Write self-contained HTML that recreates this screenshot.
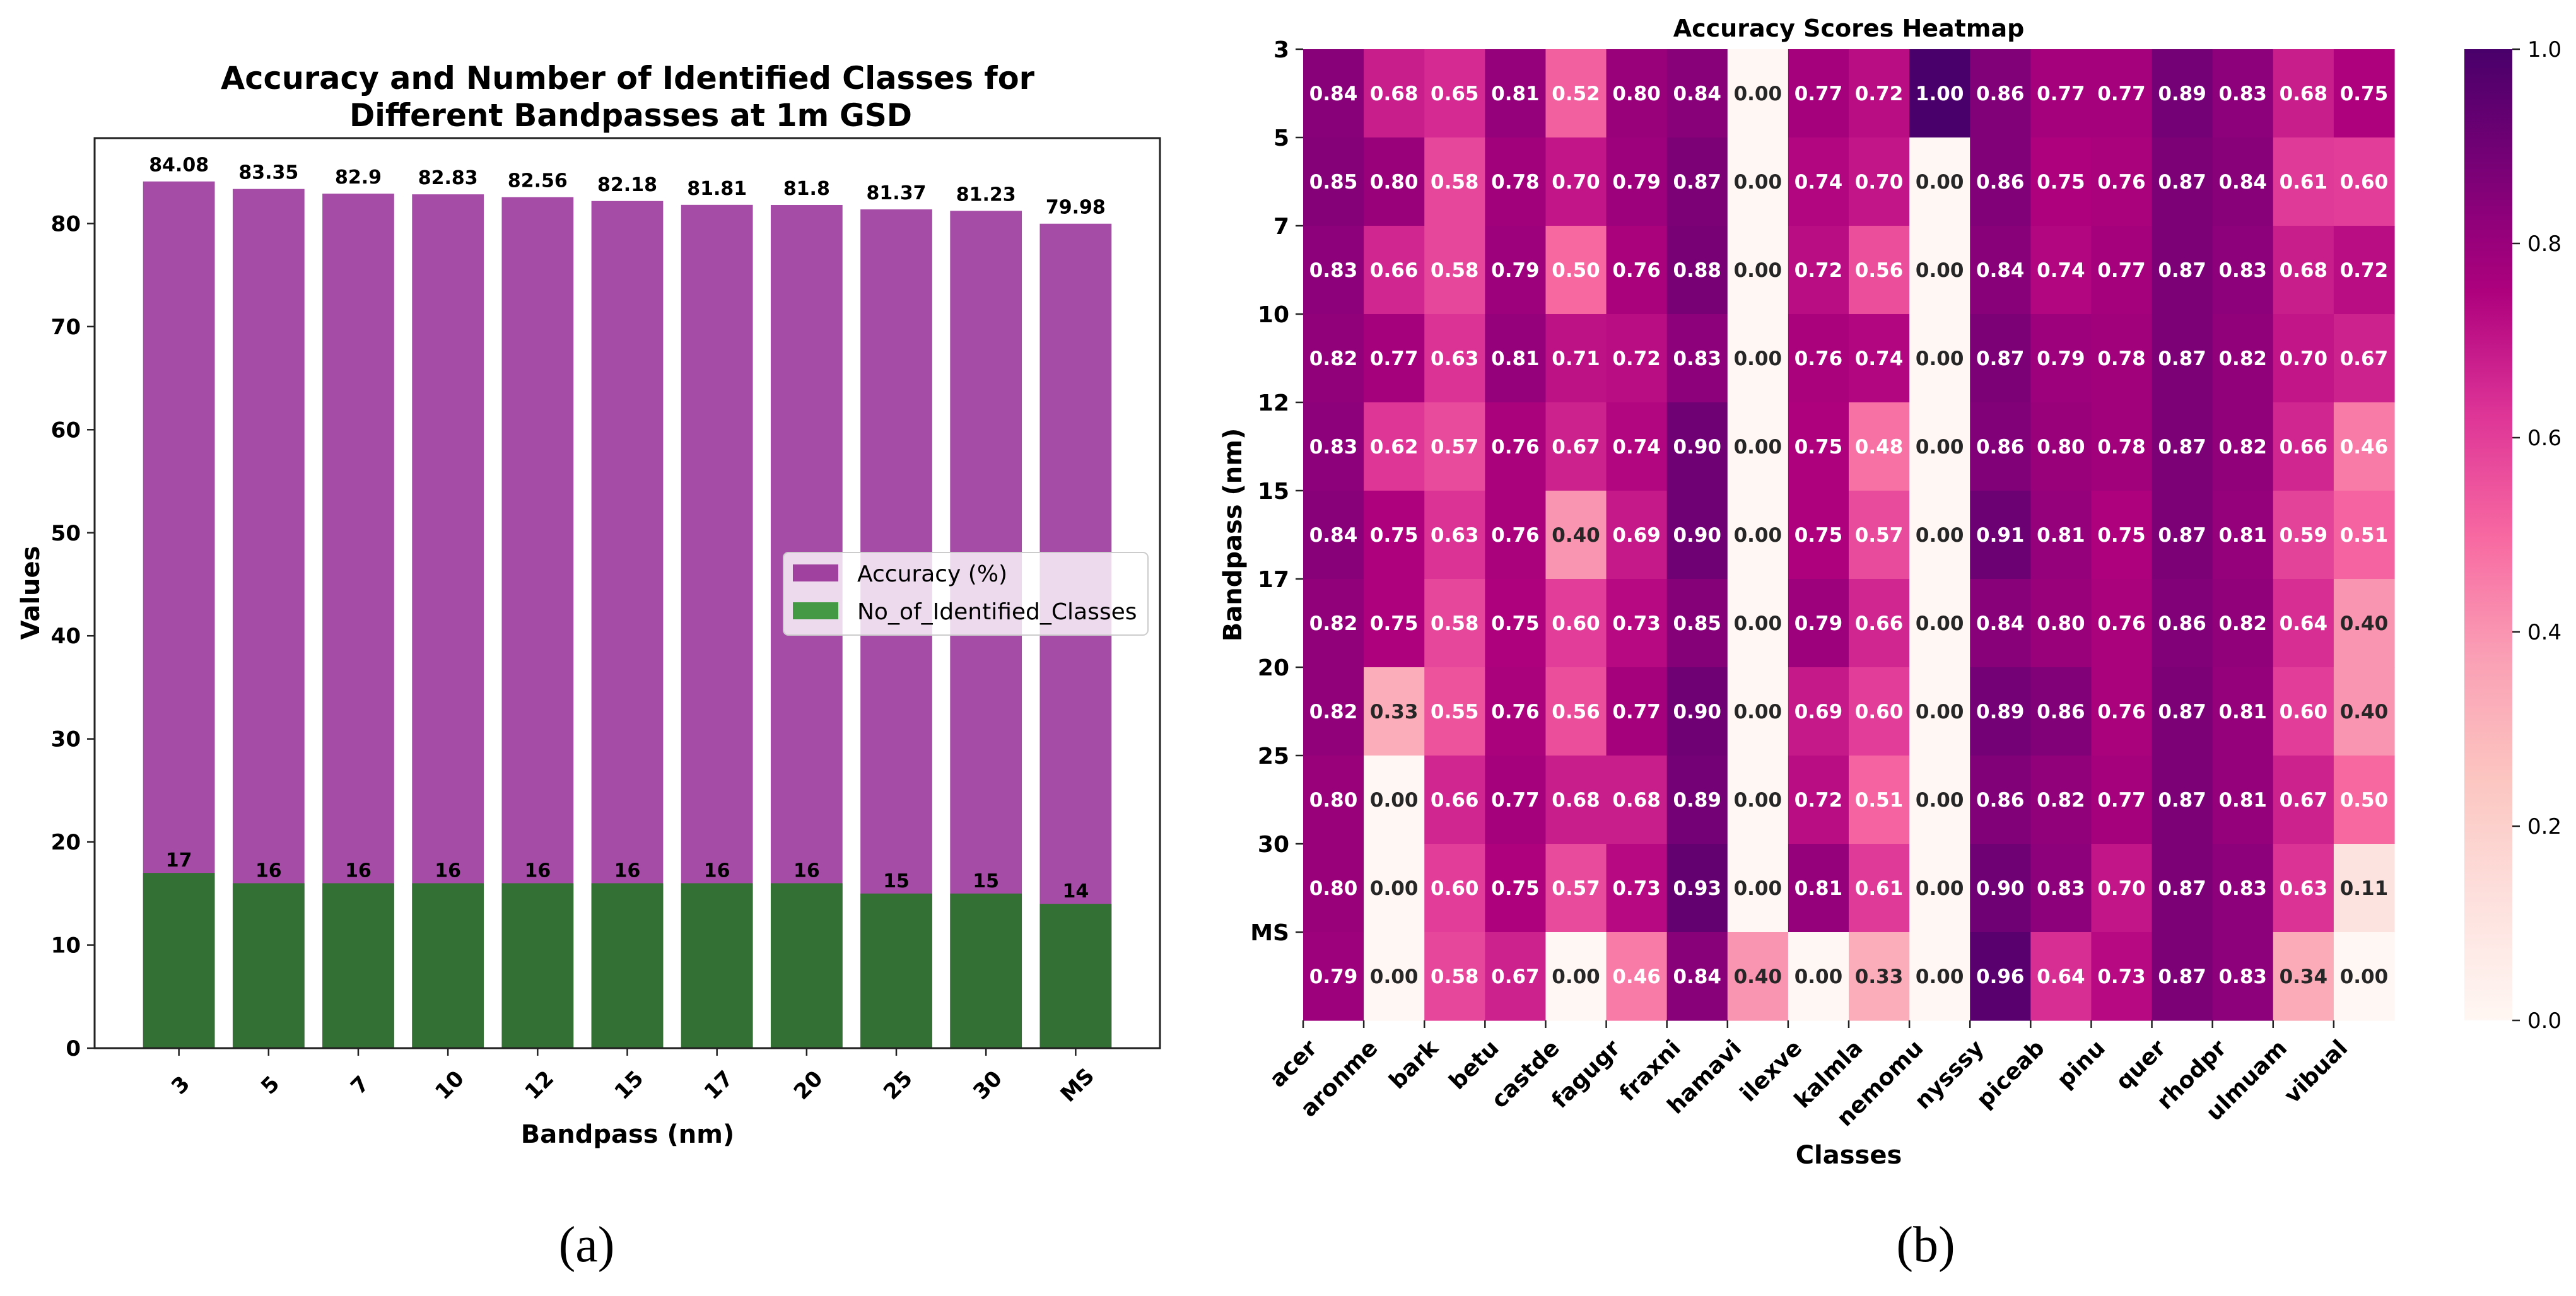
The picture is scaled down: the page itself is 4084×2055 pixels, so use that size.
<!DOCTYPE html>
<html><head><meta charset="utf-8">
<style>
html,body{margin:0;padding:0;background:#fff;}
svg{display:block;font-family:"DejaVu Sans","Liberation Sans",sans-serif;}
</style></head>
<body>
<svg id="fig" width="4084" height="2055" viewBox="0 0 4084 2055" xmlns="http://www.w3.org/2000/svg">
  <rect width="4084" height="2055" fill="#fff"/>
  <g id="barchart"></g>
  <g id="heatmap"></g>
</svg>
<script>
// ---------- Bar chart data ----------
const bandCategories = ["3","5","7","10","12","15","17","20","25","30","MS"];
const accuracyValues = [84.08,83.35,82.9,82.83,82.56,82.18,81.81,81.8,81.37,81.23,79.98];
const classCountValues = [17,16,16,16,16,16,16,16,15,15,14];
const barYTicks = [0,10,20,30,40,50,60,70,80];

// ---------- Heatmap data ----------
const hmRows = ["3","5","7","10","12","15","17","20","25","30","MS"];
const hmCols = ["acer","aronme","bark","betu","castde","fagugr","fraxni","hamavi","ilexve","kalmla","nemomu","nysssy","piceab","pinu","quer","rhodpr","ulmuam","vibual"];
const hmRow3  = [.84,.68,.65,.81,.52,.80,.84,0,.77,.72,1.00,.86,.77,.77,.89,.83,.68,.75];
const hmRow5  = [.85,.80,.58,.78,.70,.79,.87,0,.74,.70,0,.86,.75,.76,.87,.84,.61,.60];
const hmRow7  = [.83,.66,.58,.79,.50,.76,.88,0,.72,.56,0,.84,.74,.77,.87,.83,.68,.72];
const hmRow10 = [.82,.77,.63,.81,.71,.72,.83,0,.76,.74,0,.87,.79,.78,.87,.82,.70,.67];
const hmRow12 = [.83,.62,.57,.76,.67,.74,.90,0,.75,.48,0,.86,.80,.78,.87,.82,.66,.46];
const hmRow15 = [.84,.75,.63,.76,.40,.69,.90,0,.75,.57,0,.91,.81,.75,.87,.81,.59,.51];
const hmRow17 = [.82,.75,.58,.75,.60,.73,.85,0,.79,.66,0,.84,.80,.76,.86,.82,.64,.40];
const hmRow20 = [.82,.33,.55,.76,.56,.77,.90,0,.69,.60,0,.89,.86,.76,.87,.81,.60,.40];
const hmRow25 = [.80,0,.66,.77,.68,.68,.89,0,.72,.51,0,.86,.82,.77,.87,.81,.67,.50];
const hmRow30 = [.80,0,.60,.75,.57,.73,.93,0,.81,.61,0,.90,.83,.70,.87,.83,.63,.11];
const hmRowMS = [.79,0,.58,.67,0,.46,.84,.40,0,.33,0,.96,.64,.73,.87,.83,.34,0];
const hmValues = [hmRow3,hmRow5,hmRow7,hmRow10,hmRow12,hmRow15,hmRow17,hmRow20,hmRow25,hmRow30,hmRowMS];
const cbTicks = [0.0,0.2,0.4,0.6,0.8,1.0];

const NS = "http://www.w3.org/2000/svg";
function mk(parent, tag, attrs, text){
  const e = document.createElementNS(NS, tag);
  for (const k in attrs) e.setAttribute(k, attrs[k]);
  if (text !== undefined) e.textContent = text;
  parent.appendChild(e);
  return e;
}

// ================= BAR CHART =================
const bc = document.getElementById('barchart');
const ax = {l:150, r:1839, t:219, b:1662};
const xMin = -0.94, xMax = bandCategories.length - 1 + 0.94;
const yMax = Math.max(...accuracyValues) * 1.05;
const xS = i => ax.l + (i - xMin) / (xMax - xMin) * (ax.r - ax.l);
const yS = v => ax.b - v / yMax * (ax.b - ax.t);
const bw = 0.8 * (ax.r - ax.l) / (xMax - xMin);

let t;
t = mk(bc,'text',{x:995,y:141,'text-anchor':'middle','font-size':50,'font-weight':'bold',textLength:1290,lengthAdjust:'spacingAndGlyphs'},'Accuracy and Number of Identified Classes for');
 
t = mk(bc,'text',{x:1000,y:200,'text-anchor':'middle','font-size':50,'font-weight':'bold',textLength:892,lengthAdjust:'spacingAndGlyphs'},'Different Bandpasses at 1m GSD');
 

accuracyValues.forEach((v,i)=>{
  const r = mk(bc,'rect',{x:xS(i)-bw/2,y:yS(v),width:bw,height:yS(0)-yS(v),fill:'#a54ca6'});
  
  
  const l = mk(bc,'text',{x:xS(i),y:yS(v)-16,'text-anchor':'middle','font-size':30,'font-weight':'bold'},String(v));
  
  
});
classCountValues.forEach((v,i)=>{
  const r = mk(bc,'rect',{x:xS(i)-bw/2,y:yS(v),width:bw,height:yS(0)-yS(v),fill:'#337033'});
  
  
  const l = mk(bc,'text',{x:xS(i),y:yS(v)-10,'text-anchor':'middle','font-size':30,'font-weight':'bold'},String(v));
  
  
});

const fr = mk(bc,'rect',{x:ax.l,y:ax.t,width:ax.r-ax.l,height:ax.b-ax.t,fill:'none',stroke:'#222','stroke-width':3});
 

barYTicks.forEach(v=>{
  const y = yS(v);
  const tk = mk(bc,'line',{x1:ax.l-12,x2:ax.l,y1:y,y2:y,stroke:'#222','stroke-width':2.5});
   
  const lb = mk(bc,'text',{x:ax.l-22,y:y+12,'text-anchor':'end','font-size':34,'font-weight':'bold'},String(v));
   
});
bandCategories.forEach((c,i)=>{
  const x = xS(i);
  const tk = mk(bc,'line',{x1:x,x2:x,y1:ax.b,y2:ax.b+12,stroke:'#222','stroke-width':2.5});
   
  const lb = mk(bc,'text',{x:0,y:0,'text-anchor':'middle','font-size':34,'font-weight':'bold',transform:`translate(${x+4},${1722}) rotate(-45)`,'dominant-baseline':'middle'},c);
   
});
t = mk(bc,'text',{x:995,y:1812,'text-anchor':'middle','font-size':40,'font-weight':'bold'},'Bandpass (nm)');
 
t = mk(bc,'text',{x:0,y:0,'text-anchor':'middle','font-size':40,'font-weight':'bold',transform:'translate(62,940) rotate(-90)'},'Values');
 

const lg = mk(bc,'g',{});
 
mk(lg,'rect',{x:1242,y:876,width:578,height:131,rx:8,fill:'#fff','fill-opacity':0.8,stroke:'#cccccc','stroke-width':2});
let e1 = mk(lg,'g',{});  
mk(e1,'rect',{x:1257,y:895,width:72,height:27,fill:'#a0409f'});
mk(e1,'text',{x:1359,y:922,'font-size':36},'Accuracy (%)');
let e2 = mk(lg,'g',{});  
mk(e2,'rect',{x:1257,y:955,width:72,height:27,fill:'#449944'});
mk(e2,'text',{x:1359,y:982,'font-size':36},'No_of_Identified_Classes');

t = mk(bc,'text',{x:930,y:2000,'text-anchor':'middle','font-size':80,'font-family':'"Liberation Serif",serif'},'(a)');
 

// ================= HEATMAP =================
const hm = document.getElementById('heatmap');
const H = {l:2066, r:3796, t:78, b:1618};
const cw = (H.r-H.l)/hmCols.length, rh = (H.b-H.t)/hmRows.length;
const stops = [[255,247,243],[253,224,221],[252,197,192],[250,159,181],[247,104,161],[221,52,151],[174,1,126],[122,1,119],[73,0,106]];
function rdpu(v){
  v = Math.max(0,Math.min(1,v));
  const p = v*(stops.length-1), i = Math.min(Math.floor(p), stops.length-2), f = p - i;
  const a = stops[i], b = stops[i+1];
  return `rgb(${Math.round(a[0]+(b[0]-a[0])*f)},${Math.round(a[1]+(b[1]-a[1])*f)},${Math.round(a[2]+(b[2]-a[2])*f)})`;
}
t = mk(hm,'text',{x:(H.l+H.r)/2,y:58,'text-anchor':'middle','font-size':38,'font-weight':'bold'},'Accuracy Scores Heatmap');
 

hmValues.forEach((row,ri)=>{
  row.forEach((v,ci)=>{
    const x = H.l + ci*cw, y = H.t + ri*rh;
    const c = mk(hm,'rect',{x:x,y:y,width:cw+0.6,height:rh+0.6,fill:rdpu(v)});
    
    
    const l = mk(hm,'text',{x:x+cw/2,y:y+rh/2+11,'text-anchor':'middle','font-size':31,'font-weight':'bold',fill: v < 0.43 ? '#262626' : '#ffffff'},v.toFixed(2));
    
    
  });
});
hmRows.forEach((r,ri)=>{
  const y = H.t + ri*rh;
  const tk = mk(hm,'line',{x1:H.l-12,x2:H.l,y1:y,y2:y,stroke:'#222','stroke-width':2.5});
   
  const lb = mk(hm,'text',{x:H.l-22,y:y+13,'text-anchor':'end','font-size':36,'font-weight':'bold'},r);
   
});
hmCols.forEach((c,ci)=>{
  const x = H.l + ci*cw;
  const tk = mk(hm,'line',{x1:x,x2:x,y1:H.b,y2:H.b+12,stroke:'#222','stroke-width':2.5});
   
  const lb = mk(hm,'text',{x:0,y:0,'text-anchor':'end','font-size':36,'font-weight':'bold',transform:`translate(${x+24},${1664}) rotate(-45)`},c);
   
});
t = mk(hm,'text',{x:(H.l+H.r)/2,y:1845,'text-anchor':'middle','font-size':40,'font-weight':'bold'},'Classes');
 
t = mk(hm,'text',{x:0,y:0,'text-anchor':'middle','font-size':40,'font-weight':'bold',transform:`translate(1968,${(H.t+H.b)/2}) rotate(-90)`},'Bandpass (nm)');
 

const defs = mk(hm,'defs',{});
const gr = mk(defs,'linearGradient',{id:'rdpu',x1:0,y1:1,x2:0,y2:0});
stops.forEach((s,i)=>mk(gr,'stop',{offset:(i/(stops.length-1)),'stop-color':`rgb(${s[0]},${s[1]},${s[2]})`}));
const CB = {l:3907, r:3983, t:78, b:1618};
const cb = mk(hm,'rect',{x:CB.l,y:CB.t,width:CB.r-CB.l,height:CB.b-CB.t,fill:'url(#rdpu)'});
 
cbTicks.forEach(v=>{
  const y = CB.b - v*(CB.b-CB.t);
  const tk = mk(hm,'line',{x1:CB.r,x2:CB.r+12,y1:y,y2:y,stroke:'#222','stroke-width':2.5});
   
  const lb = mk(hm,'text',{x:CB.r+24,y:y+12,'font-size':34},v.toFixed(1));
   
});
t = mk(hm,'text',{x:3053,y:2000,'text-anchor':'middle','font-size':80,'font-family':'"Liberation Serif",serif'},'(b)');
 
</script>
</body></html>
